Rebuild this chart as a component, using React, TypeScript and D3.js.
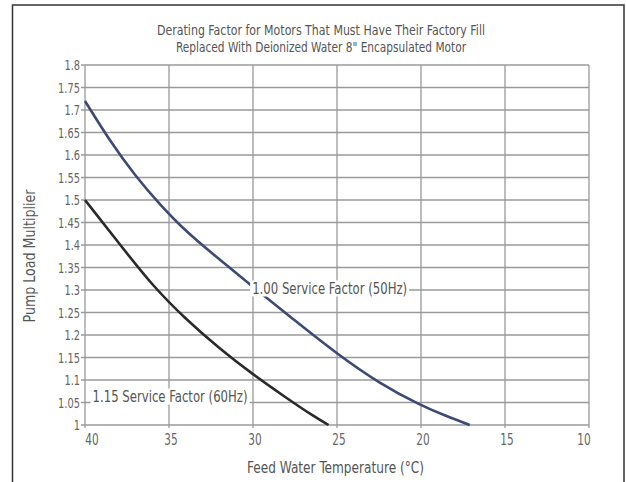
import React, { useEffect, useRef } from 'react';
import * as d3 from 'd3';

// Feed water temperature (°C) vs pump load multiplier
const sf100Temp = [40, 38.5, 37, 35.5, 34, 32, 30, 27.5, 25, 22.5, 20, 18.5, 17.1];
const sf100Mult = [1.72, 1.63, 1.553, 1.488, 1.43, 1.368, 1.307, 1.232, 1.158, 1.093, 1.043, 1.02, 1.0];

const sf115Temp = [40, 38, 36, 34, 32, 30, 28, 26.5, 25.5];
const sf115Mult = [1.5, 1.405, 1.31, 1.235, 1.17, 1.112, 1.06, 1.022, 1.0];

const xTicks = [40, 35, 30, 25, 20, 15, 10];
const yTicks = [1, 1.05, 1.1, 1.15, 1.2, 1.25, 1.3, 1.35, 1.4, 1.45, 1.5, 1.55, 1.6, 1.65, 1.7, 1.75, 1.8];

const titleLines = [
  'Derating Factor for Motors That Must Have Their Factory Fill',
  'Replaced With Deionized Water 8" Encapsulated Motor',
];

const FONT = '"DejaVu Sans Condensed", "DejaVu Sans", sans-serif';

// squeeze a text element horizontally to mimic the narrow font
const condense = (sel: d3.Selection<SVGTextElement, any, any, any>, k: number) => {
  sel.each(function () {
    const w = this.getComputedTextLength();
    d3.select(this).attr('textLength', w * k).attr('lengthAdjust', 'spacingAndGlyphs');
  });
};

const App: React.FC = () => {
  const svgRef = useRef<SVGSVGElement>(null);

  useEffect(() => {
    if (!svgRef.current) return;
    const svg = d3.select(svgRef.current);
    svg.selectAll('*').remove();

    const margin = { top: 65, right: 37, bottom: 57, left: 85 };
    const W = 626, H = 482;
    const width = W - margin.left - margin.right;
    const height = H - margin.top - margin.bottom;

    // outer frame (open at the bottom)
    svg.append('path')
      .attr('d', `M12.5,${H} L12.5,5 L624,5 L624,${H}`)
      .attr('fill', 'none')
      .attr('stroke', '#333')
      .attr('stroke-width', 1.5);

    const x = d3.scaleLinear().domain([40, 10]).range([0, width]);
    const y = d3.scaleLinear().domain([1, 1.8]).range([height, 0]);

    const g = svg.append('g').attr('transform', `translate(${margin.left},${margin.top})`);

    // grid
    g.selectAll('.hgrid')
      .data(yTicks)
      .enter()
      .append('line')
      .attr('x1', -4)
      .attr('x2', width)
      .attr('y1', d => y(d))
      .attr('y2', d => y(d))
      .attr('stroke', '#9a9a9a')
      .attr('stroke-width', 1.3);

    g.selectAll('.vgrid')
      .data(xTicks)
      .enter()
      .append('line')
      .attr('x1', d => x(d))
      .attr('x2', d => x(d))
      .attr('y1', 0)
      .attr('y2', height + 3)
      .attr('stroke', '#9a9a9a')
      .attr('stroke-width', 1.3);

    // tick labels
    const yl = g.selectAll<SVGTextElement, number>('.ylab')
      .data(yTicks)
      .enter()
      .append('text')
      .attr('x', -5)
      .attr('y', d => y(d) + 5)
      .attr('text-anchor', 'end')
      .style('font-family', FONT)
      .style('font-size', '14px')
      .style('fill', '#666')
      .text(d => String(d));
    condense(yl, 0.78);

    const xl = g.selectAll<SVGTextElement, number>('.xlab')
      .data(xTicks)
      .enter()
      .append('text')
      .attr('x', d => x(d) + (d === 40 ? 7 : d === 10 ? -5 : 2))
      .attr('y', height + 20)
      .attr('text-anchor', 'middle')
      .style('font-family', FONT)
      .style('font-size', '15px')
      .style('fill', '#666')
      .text(d => String(d));
    condense(xl, 0.78);

    // axis titles
    g.append('text')
      .attr('x', 335.5 - margin.left)
      .attr('y', height + 48)
      .attr('text-anchor', 'middle')
      .attr('textLength', 177)
      .attr('lengthAdjust', 'spacingAndGlyphs')
      .style('font-family', FONT)
      .style('font-size', '15px')
      .style('fill', '#555')
      .text('Feed Water Temperature (°C)');

    svg.append('text')
      .attr('transform', `translate(35,256) rotate(-90)`)
      .attr('text-anchor', 'middle')
      .attr('textLength', 133)
      .attr('lengthAdjust', 'spacingAndGlyphs')
      .style('font-family', FONT)
      .style('font-size', '15px')
      .style('fill', '#555')
      .text('Pump Load Multiplier');

    // title
    const titleWidths = [328, 290];
    titleLines.forEach((t, i) => {
      svg.append('text')
        .attr('x', 321)
        .attr('y', 35 + i * 17)
        .attr('text-anchor', 'middle')
        .attr('textLength', titleWidths[i])
        .attr('lengthAdjust', 'spacingAndGlyphs')
        .style('font-family', FONT)
        .style('font-size', '14.5px')
        .style('fill', '#555')
        .text(t);
    });

    // curves
    const line = d3.line<[number, number]>()
      .x(d => x(d[0]))
      .y(d => y(d[1]))
      .curve(d3.curveBasis);

    const s100 = sf100Temp.map((t, i) => [t, sf100Mult[i]] as [number, number]);
    const s115 = sf115Temp.map((t, i) => [t, sf115Mult[i]] as [number, number]);

    g.append('path')
      .attr('d', line(s100) || '')
      .attr('fill', 'none')
      .attr('stroke', '#3d4a74')
      .attr('stroke-width', 2.6);

    g.append('path')
      .attr('d', line(s115) || '')
      .attr('fill', 'none')
      .attr('stroke', '#2a2a2a')
      .attr('stroke-width', 2.6);

    // curve labels on a white backing
    const labels = [
      { text: '1.00 Service Factor (50Hz)', t: 30.05, v: 1.29 },
      { text: '1.15 Service Factor (60Hz)', t: 39.55, v: 1.05 },
    ];
    labels.forEach(l => {
      const txt = g.append('text')
        .attr('x', x(l.t))
        .attr('y', y(l.v) - 1)
        .attr('textLength', 155)
        .attr('lengthAdjust', 'spacingAndGlyphs')
        .style('font-family', FONT)
        .style('font-size', '15px')
        .style('fill', '#555')
        .text(l.text);
      const bb = (txt.node() as SVGTextElement).getBBox();
      g.insert('rect', () => txt.node() as SVGTextElement)
        .attr('x', bb.x - 2)
        .attr('y', bb.y + 1)
        .attr('width', bb.width + 4)
        .attr('height', bb.height - 2)
        .attr('fill', '#fff');
    });
  }, []);

  return (
    <svg
      ref={svgRef}
      width={626}
      height={482}
      style={{ position: 'absolute', left: 0, top: 0, background: '#fff' }}
    />
  );
};

export default App;
